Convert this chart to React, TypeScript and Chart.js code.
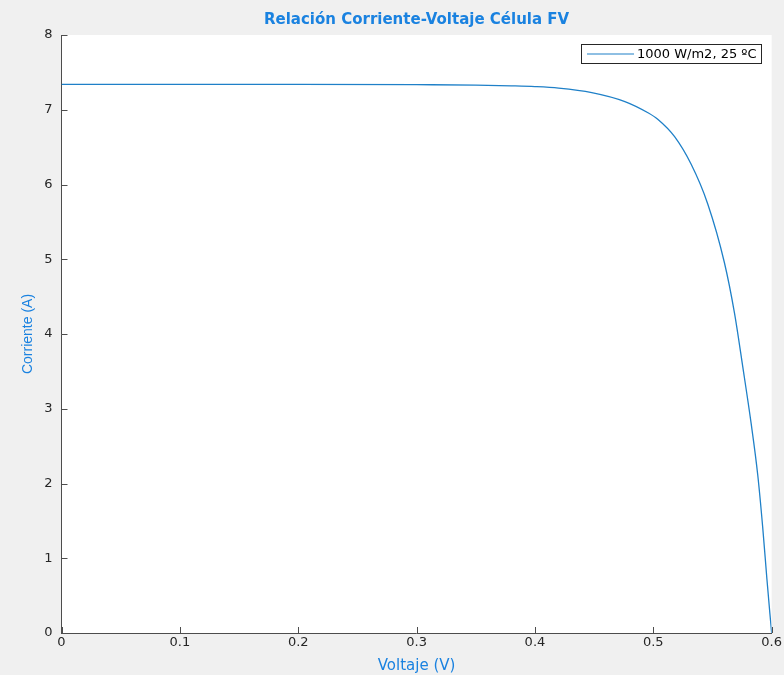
import React, { useEffect, useRef } from "react";
import { Chart, registerables } from "chart.js";

Chart.register(...registerables);

const voltage = [0, 0.1, 0.2, 0.3, 0.35, 0.38, 0.4, 0.42, 0.448, 0.476, 0.4955, 0.504, 0.518, 0.532, 0.546, 0.56, 0.5686, 0.5756, 0.5826, 0.5882, 0.5924, 0.596, 0.5985, 0.6];
const current = [7.34, 7.34, 7.34, 7.335, 7.33, 7.32, 7.31, 7.29, 7.23, 7.11, 6.96, 6.87, 6.64, 6.27, 5.74, 4.96, 4.28, 3.56, 2.81, 2.12, 1.42, 0.72, 0.26, 0];

const xTicks = [0, 0.1, 0.2, 0.3, 0.4, 0.5, 0.6];
const xTickLabels = ["0", "0.1", "0.2", "0.3", "0.4", "0.5", "0.6"];
const yTicks = [0, 1, 2, 3, 4, 5, 6, 7, 8];
const yTickLabels = ["0", "1", "2", "3", "4", "5", "6", "7", "8"];

const titleText = "Relación Corriente-Voltaje Célula FV";
const xTitle = "Voltaje (V)";
const yTitle = "Corriente (A)";
const seriesLabel = "1000 W/m2, 25 ºC";

const FONT = "'DejaVu Sans', Verdana, sans-serif";
const FONT_Y = "'Liberation Sans', Arial, Helvetica, sans-serif";
const AXIS = "#4d4d4d";
const TICKTXT = "#262626";
const LINE = "#1f80c8";
const BLUE = "#1a82e0";

const decor = {
  id: "decor",
  beforeDraw(chart: any) {
    const { ctx, chartArea: a } = chart;
    ctx.save();
    ctx.fillStyle = "#f0f0f0";
    ctx.fillRect(0, 0, chart.width, chart.height);
    ctx.fillStyle = "#ffffff";
    ctx.fillRect(a.left, a.top, a.right - a.left, a.bottom - a.top);
    ctx.restore();
  },
  afterDraw(chart: any) {
    const { ctx, chartArea: a, scales } = chart;
    ctx.save();
    ctx.strokeStyle = AXIS;
    ctx.lineWidth = 1;
    ctx.beginPath();
    xTicks.forEach((v) => {
      const px = Math.round(scales.x.getPixelForValue(v)) + 0.5;
      ctx.moveTo(px, a.bottom);
      ctx.lineTo(px, a.bottom - 6);
    });
    yTicks.forEach((v) => {
      const py = Math.round(scales.y.getPixelForValue(v)) + 0.5;
      ctx.moveTo(a.left, py);
      ctx.lineTo(a.left + 6, py);
    });
    ctx.stroke();
    ctx.fillStyle = BLUE;
    ctx.font = `bold 15px ${FONT}`;
    ctx.textAlign = "center";
    ctx.textBaseline = "middle";
    ctx.fillText(titleText, (a.left + a.right) / 2, 20);
    const bx = 581.5, by = 44.5, bw = 180, bh = 19;
    ctx.fillStyle = "#ffffff";
    ctx.fillRect(bx, by, bw, bh);
    ctx.strokeStyle = "#262626";
    ctx.lineWidth = 1;
    ctx.strokeRect(bx, by, bw, bh);
    ctx.strokeStyle = LINE;
    ctx.lineWidth = 1.2;
    ctx.beginPath();
    ctx.moveTo(587, by + bh / 2);
    ctx.lineTo(634, by + bh / 2);
    ctx.stroke();
    ctx.fillStyle = "#000000";
    ctx.font = `13px ${FONT}`;
    ctx.textAlign = "left";
    ctx.fillText(seriesLabel, 637, by + bh / 2 + 0.5);
    ctx.restore();
  },
};

export default function App() {
  const ref = useRef<HTMLCanvasElement | null>(null);
  useEffect(() => {
    if (!ref.current) return;
    const chart = new Chart(ref.current, {
      type: "line",
      data: {
        datasets: [
          {
            label: seriesLabel,
            data: voltage.map((v, i) => ({ x: v, y: current[i] })),
            borderColor: LINE,
            borderWidth: 1.3,
            pointRadius: 0,
            fill: false,
            cubicInterpolationMode: "monotone",
          },
        ],
      },
      options: {
        animation: false,
        responsive: false,
        devicePixelRatio: 1,
        layout: { padding: { top: 35, right: 10, bottom: 0, left: 0 } },
        plugins: { legend: { display: false }, title: { display: false }, tooltip: { enabled: false } },
        scales: {
          x: {
            type: "linear",
            min: 0,
            max: 0.6,
            afterFit: (s: any) => { s.height = 42; },
            afterBuildTicks: (s: any) => { s.ticks = xTicks.map((v) => ({ value: v })); },
            ticks: {
              autoSkip: false,
              maxRotation: 0,
              padding: 2,
              color: TICKTXT,
              font: { family: FONT, size: 13 },
              callback: (v: any) => xTickLabels[xTicks.indexOf(Number(v))] ?? "",
            },
            grid: { display: true, drawOnChartArea: false, drawTicks: false },
            border: { display: true, color: AXIS, width: 1 },
            title: { display: true, text: xTitle, color: BLUE, font: { family: FONT, size: 15 }, padding: { top: 0, bottom: 0 } },
          },
          y: {
            type: "linear",
            min: 0,
            max: 8,
            afterFit: (s: any) => { s.width = 61.5; },
            afterBuildTicks: (s: any) => { s.ticks = yTicks.map((v) => ({ value: v })); },
            ticks: {
              autoSkip: false,
              padding: 9,
              color: TICKTXT,
              font: { family: FONT, size: 13 },
              callback: (v: any) => yTickLabels[yTicks.indexOf(Number(v))] ?? "",
            },
            grid: { display: true, drawOnChartArea: false, drawTicks: false },
            border: { display: true, color: AXIS, width: 1 },
            title: { display: true, text: yTitle, color: BLUE, font: { family: FONT_Y, size: 14 }, padding: { top: 20, bottom: 0 } },
          },
        },
      },
      plugins: [decor],
    } as any);
    return () => chart.destroy();
  }, []);
  return (
    <div style={{ position: "fixed", left: 0, top: 0, width: 784, height: 675, background: "#f0f0f0" }}>
      <canvas ref={ref} width={784} height={675} style={{ width: 784, height: 675, display: "block" }} />
    </div>
  );
}
